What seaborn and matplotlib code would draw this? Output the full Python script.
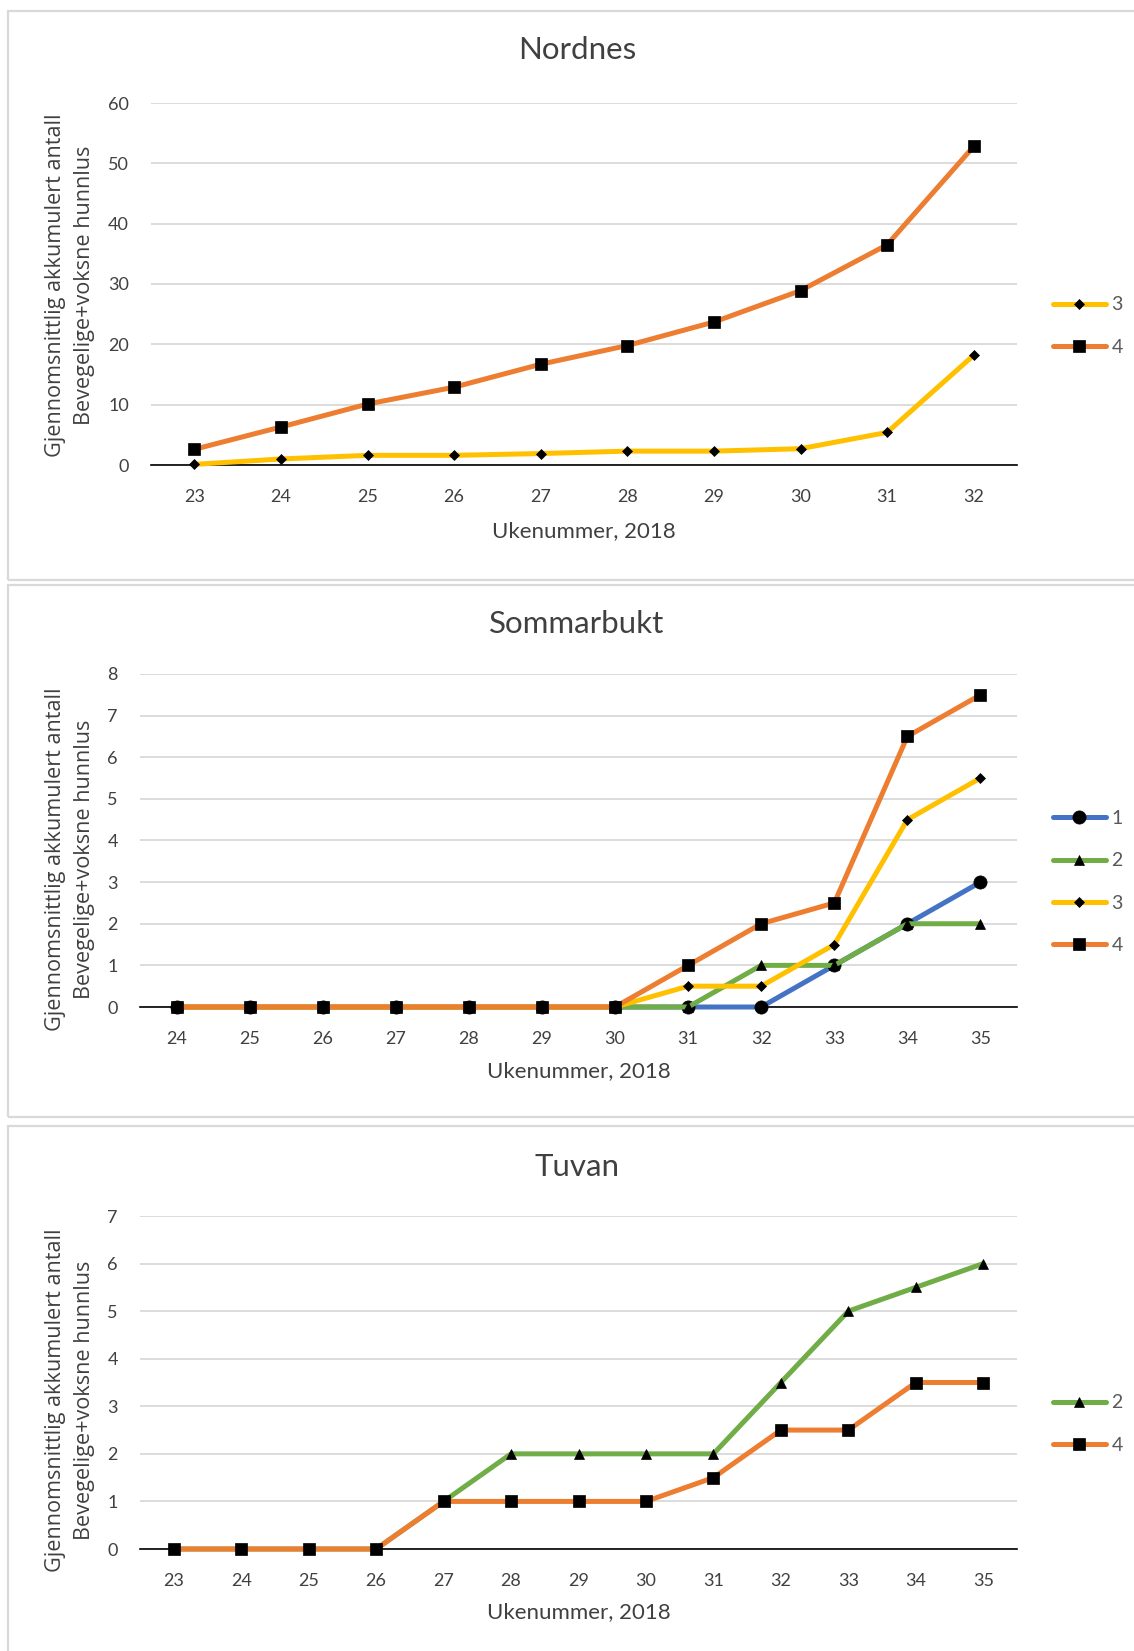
import matplotlib
matplotlib.use("Agg")
import matplotlib.pyplot as plt
from matplotlib.patches import Rectangle
import seaborn as sns
import pandas as pd

# ---- data ---------------------------------------------------------------
nordnes_weeks = [23, 24, 25, 26, 27, 28, 29, 30, 31, 32]
nordnes_3 = [0.1, 1.0, 1.6, 1.6, 1.9, 2.3, 2.3, 2.7, 5.4, 18.2]
nordnes_4 = [2.6, 6.3, 10.1, 12.9, 16.7, 19.8, 23.7, 28.9, 36.5, 52.8]

sommarbukt_weeks = [24, 25, 26, 27, 28, 29, 30, 31, 32, 33, 34, 35]
sommarbukt_1 = [0, 0, 0, 0, 0, 0, 0, 0, 0, 1, 2, 3]
sommarbukt_2 = [0, 0, 0, 0, 0, 0, 0, 0, 1, 1, 2, 2]
sommarbukt_3 = [0, 0, 0, 0, 0, 0, 0, 0.5, 0.5, 1.5, 4.5, 5.5]
sommarbukt_4 = [0, 0, 0, 0, 0, 0, 0, 1, 2, 2.5, 6.5, 7.5]

tuvan_weeks = [23, 24, 25, 26, 27, 28, 29, 30, 31, 32, 33, 34, 35]
tuvan_2 = [0, 0, 0, 0, 1, 2, 2, 2, 2, 3.5, 5, 5.5, 6]
tuvan_4 = [0, 0, 0, 0, 1, 1, 1, 1, 1.5, 2.5, 2.5, 3.5, 3.5]

titles = ["Nordnes", "Sommarbukt", "Tuvan"]
x_label = "Ukenummer, 2018"
y_label = "Gjennomsnittlig akkumulert antall\nBevegelige+voksne hunnlus"

# ---- styling ------------------------------------------------------------
sns.set_theme(style="white")
plt.rcParams["font.family"] = ["Lato", "DejaVu Sans"]

TEXT = "#404040"
GRID = "#D9D9D9"
series_style = {
    "1": dict(color="#4472C4", marker="o", ms=9.5),
    "2": dict(color="#70AD47", marker="^", ms=6.5),
    "3": dict(color="#FFC000", marker="D", ms=5.0),
    "4": dict(color="#ED7D31", marker="s", ms=8.5),
}

W, H = 1134, 1651
fig = plt.figure(figsize=(W / 100, H / 100), dpi=100)


def fy(px):
    return 1 - px / H


def fx(px):
    return px / W


panels = [
    dict(title=titles[0], weeks=nordnes_weeks,
         series={"3": nordnes_3, "4": nordnes_4},
         ymax=60, ystep=10,
         ax_box=(151, 103, 1017, 465), box=(8, 11, 1150, 580),
         title_y=50, xlabel_y=531, ylabel_y=285, legend_y=326),
    dict(title=titles[1], weeks=sommarbukt_weeks,
         series={"1": sommarbukt_1, "2": sommarbukt_2,
                 "3": sommarbukt_3, "4": sommarbukt_4},
         ymax=8, ystep=1,
         ax_box=(140, 674, 1017, 1007), box=(8, 585, 1150, 1117),
         title_y=624, xlabel_y=1071, ylabel_y=859, legend_y=882),
    dict(title=titles[2], weeks=tuvan_weeks,
         series={"2": tuvan_2, "4": tuvan_4},
         ymax=7, ystep=1,
         ax_box=(140, 1216, 1017, 1549), box=(8, 1126, 1150, 1700),
         title_y=1167, xlabel_y=1612, ylabel_y=1400, legend_y=1424),
]

for p in panels:
    # panel frame
    bx0, by0, bx1, by1 = p["box"]
    fig.patches.append(Rectangle((fx(bx0), fy(by1)), fx(bx1 - bx0), (by1 - by0) / H,
                                 transform=fig.transFigure, fill=False,
                                 edgecolor=GRID, linewidth=1.6, zorder=0))

    x0, y0, x1, y1 = p["ax_box"]
    ax = fig.add_axes([fx(x0), fy(y1), fx(x1 - x0), (y1 - y0) / H])

    weeks = p["weeks"]
    handles, labels = [], []
    for i, (name, vals) in enumerate(p["series"].items()):
        st = series_style[name]
        df = pd.DataFrame({"week": weeks, "value": vals})
        sns.lineplot(data=df, x="week", y="value", ax=ax, color=st["color"],
                     linewidth=3.6, marker=st["marker"], markersize=st["ms"],
                     markerfacecolor="black", markeredgecolor="black",
                     markeredgewidth=0.5, clip_on=False, zorder=3 + i,
                     legend=False)
        line = ax.lines[-1]
        handles.append(line)
        labels.append(name)

    ax.set_xlim(weeks[0] - 0.5, weeks[-1] + 0.5)
    ax.set_ylim(0, p["ymax"])
    ax.set_xticks(weeks)
    ax.set_xticks([weeks[-1] + 0.5], minor=True)
    ax.set_yticks(range(0, p["ymax"] + 1, p["ystep"]))
    ax.yaxis.grid(True, color=GRID, linewidth=1.3)
    ax.xaxis.grid(False)
    ax.set_axisbelow(True)
    for s in ("top", "right", "left"):
        ax.spines[s].set_visible(False)
    ax.spines["bottom"].set_color("black")
    ax.spines["bottom"].set_linewidth(1.2)
    ax.spines["bottom"].set_zorder(2)
    ax.tick_params(axis="x", which="both", direction="in", length=5, width=1,
                   color="black", pad=17, labelsize=13, labelcolor=TEXT)
    ax.tick_params(axis="y", length=0, pad=16, labelsize=13, labelcolor=TEXT)
    ax.set_xlabel("")
    ax.set_ylabel("")
    ax.set_facecolor("none")

    fig.text(fx(577), fy(p["title_y"]), p["title"], ha="center", va="center",
             fontsize=22.5, color=TEXT)
    fig.text(fx((x0 + x1) / 2), fy(p["xlabel_y"]), x_label, ha="center",
             va="center", fontsize=16, color=TEXT)
    fig.text(fx(70), fy(p["ylabel_y"]), y_label, ha="center", va="center",
             rotation=90, fontsize=15.6, color=TEXT, linespacing=1.55,
             family=["Open Sans", "DejaVu Sans"])

    fig.legend(handles, labels, loc="center left",
               bbox_to_anchor=(fx(1053), fy(p["legend_y"])),
               frameon=False, fontsize=14, labelcolor="#595959",
               handlelength=2.7, handletextpad=0.3, labelspacing=1.3,
               borderpad=0, borderaxespad=0)

fig.savefig("out.png", dpi=100, facecolor="white")
